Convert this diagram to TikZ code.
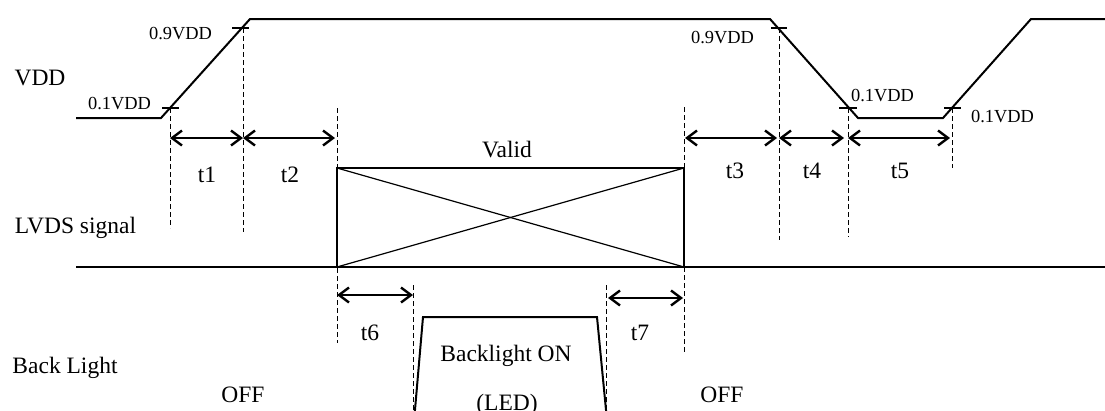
\documentclass[tikz,border=0pt]{standalone}
\usepackage{fontspec}
\setmainfont{Liberation Serif}
\usetikzlibrary{arrows.meta}
\begin{document}
\begin{tikzpicture}[x=1pt,y=-1pt,
  wave/.style={line width=2pt, line join=miter},
  guide/.style={line width=1pt, dash pattern=on 5pt off 3pt},
  tickmark/.style={line width=1.2pt},
  thin/.style={line width=1.2pt},
  span/.style={line width=2.4pt, {Straight Barb[length=10pt,width=15pt]}-{Straight Barb[length=10pt,width=15pt]}},
  big/.style={font=\fontsize{23.5}{28}\selectfont, inner sep=0pt, anchor=base},
  small/.style={font=\fontsize{18.4}{22}\selectfont, inner sep=0pt, anchor=base}]
\useasboundingbox (0,0) rectangle (1105,410);

% VDD waveform
\coordinate (v0) at (76,118);
\coordinate (v1) at (161,118);
\coordinate (v2) at (250,19);
\coordinate (v3) at (770,19);
\coordinate (v4) at (858,118);
\coordinate (v5) at (943,118);
\coordinate (v6) at (1031,19);
\coordinate (v7) at (1106,19);
\draw[wave] (v0) -- (v1) -- (v2) -- (v3) -- (v4) -- (v5) -- (v6) -- (v7);

% threshold ticks
\draw[tickmark] (162,108) -- (179,108);
\draw[tickmark] (232,28) -- (249,28);
\draw[tickmark] (771,28) -- (787,28);
\draw[tickmark] (839,108) -- (857,108);
\draw[tickmark] (944,108) -- (961,108);

% dashed guides
\coordinate (g1t) at (170,108);  \coordinate (g1b) at (170,228);
\coordinate (g2t) at (243,28);   \coordinate (g2b) at (243,232);
\coordinate (g3t) at (337,108);  \coordinate (g3b) at (337,343);
\coordinate (g4t) at (684,107);  \coordinate (g4b) at (684,352);
\coordinate (g5t) at (779,28);   \coordinate (g5b) at (779,240);
\coordinate (g6t) at (848,108);  \coordinate (g6b) at (848,237);
\coordinate (g7t) at (952,108);  \coordinate (g7b) at (952,168);
\coordinate (g8t) at (413,285);  \coordinate (g8b) at (413,411);
\coordinate (g9t) at (606,285);  \coordinate (g9b) at (606,411);
\foreach \g in {1,...,9} \draw[guide] (g\g t) -- (g\g b);

% timing arrows
\draw[span] (170,138) -- (243,138);
\draw[span] (243,138) -- (335,138);
\draw[span] (685,138) -- (777,138);
\draw[span] (779,138) -- (844,138);
\draw[span] (848,138) -- (950,138);
\draw[span] (337,295) -- (413,295);
\draw[span] (608,298) -- (683,298);

% LVDS signal
\draw[line width=2.4pt] (76,267) -- (1106,267);
\coordinate (b1) at (337,168);
\coordinate (b2) at (684,168);
\coordinate (b3) at (684,267);
\coordinate (b4) at (337,267);
\draw[wave] (b1) -- (b2) -- (b3) -- (b4) -- cycle;
\draw[thin] (b1) -- (b3);
\draw[thin] (b2) -- (b4);

% Backlight pulse
\draw[wave] (414.8,412) -- (423,317) -- (597,317) -- (606.2,412);

% labels
\node[big] (lvdd) at (40,85) {VDD};
\node[big] (llvds) at (75.5,233) {LVDS signal};
\node[big] (lbl) at (65,373) {Back Light};
\node[big] (lvalid) at (507,157) {Valid};
\node[big] (lt1) at (207,182) {t1};
\node[big] (lt2) at (290,182) {t2};
\node[big] (lt3) at (735,178) {t3};
\node[big] (lt4) at (812,178) {t4};
\node[big] (lt5) at (900,178) {t5};
\node[big] (lt6) at (370,340) {t6};
\node[big] (lt7) at (640,340) {t7};
\node[big] (loff1) at (243,402) {OFF};
\node[big] (loff2) at (722,402) {OFF};
\node[big] (lon) at (506,361) {Backlight ON};
\node[big] (lled) at (507,410.5) {(LED)};

\node[small] (s1) at (180.5,39) {0.9VDD};
\node[small] (s2) at (722.5,43) {0.9VDD};
\node[small] (s3) at (119.5,109) {0.1VDD};
\node[small] (s4) at (882.5,101) {0.1VDD};
\node[small] (s5) at (1002.5,122) {0.1VDD};
\end{tikzpicture}
\end{document}
